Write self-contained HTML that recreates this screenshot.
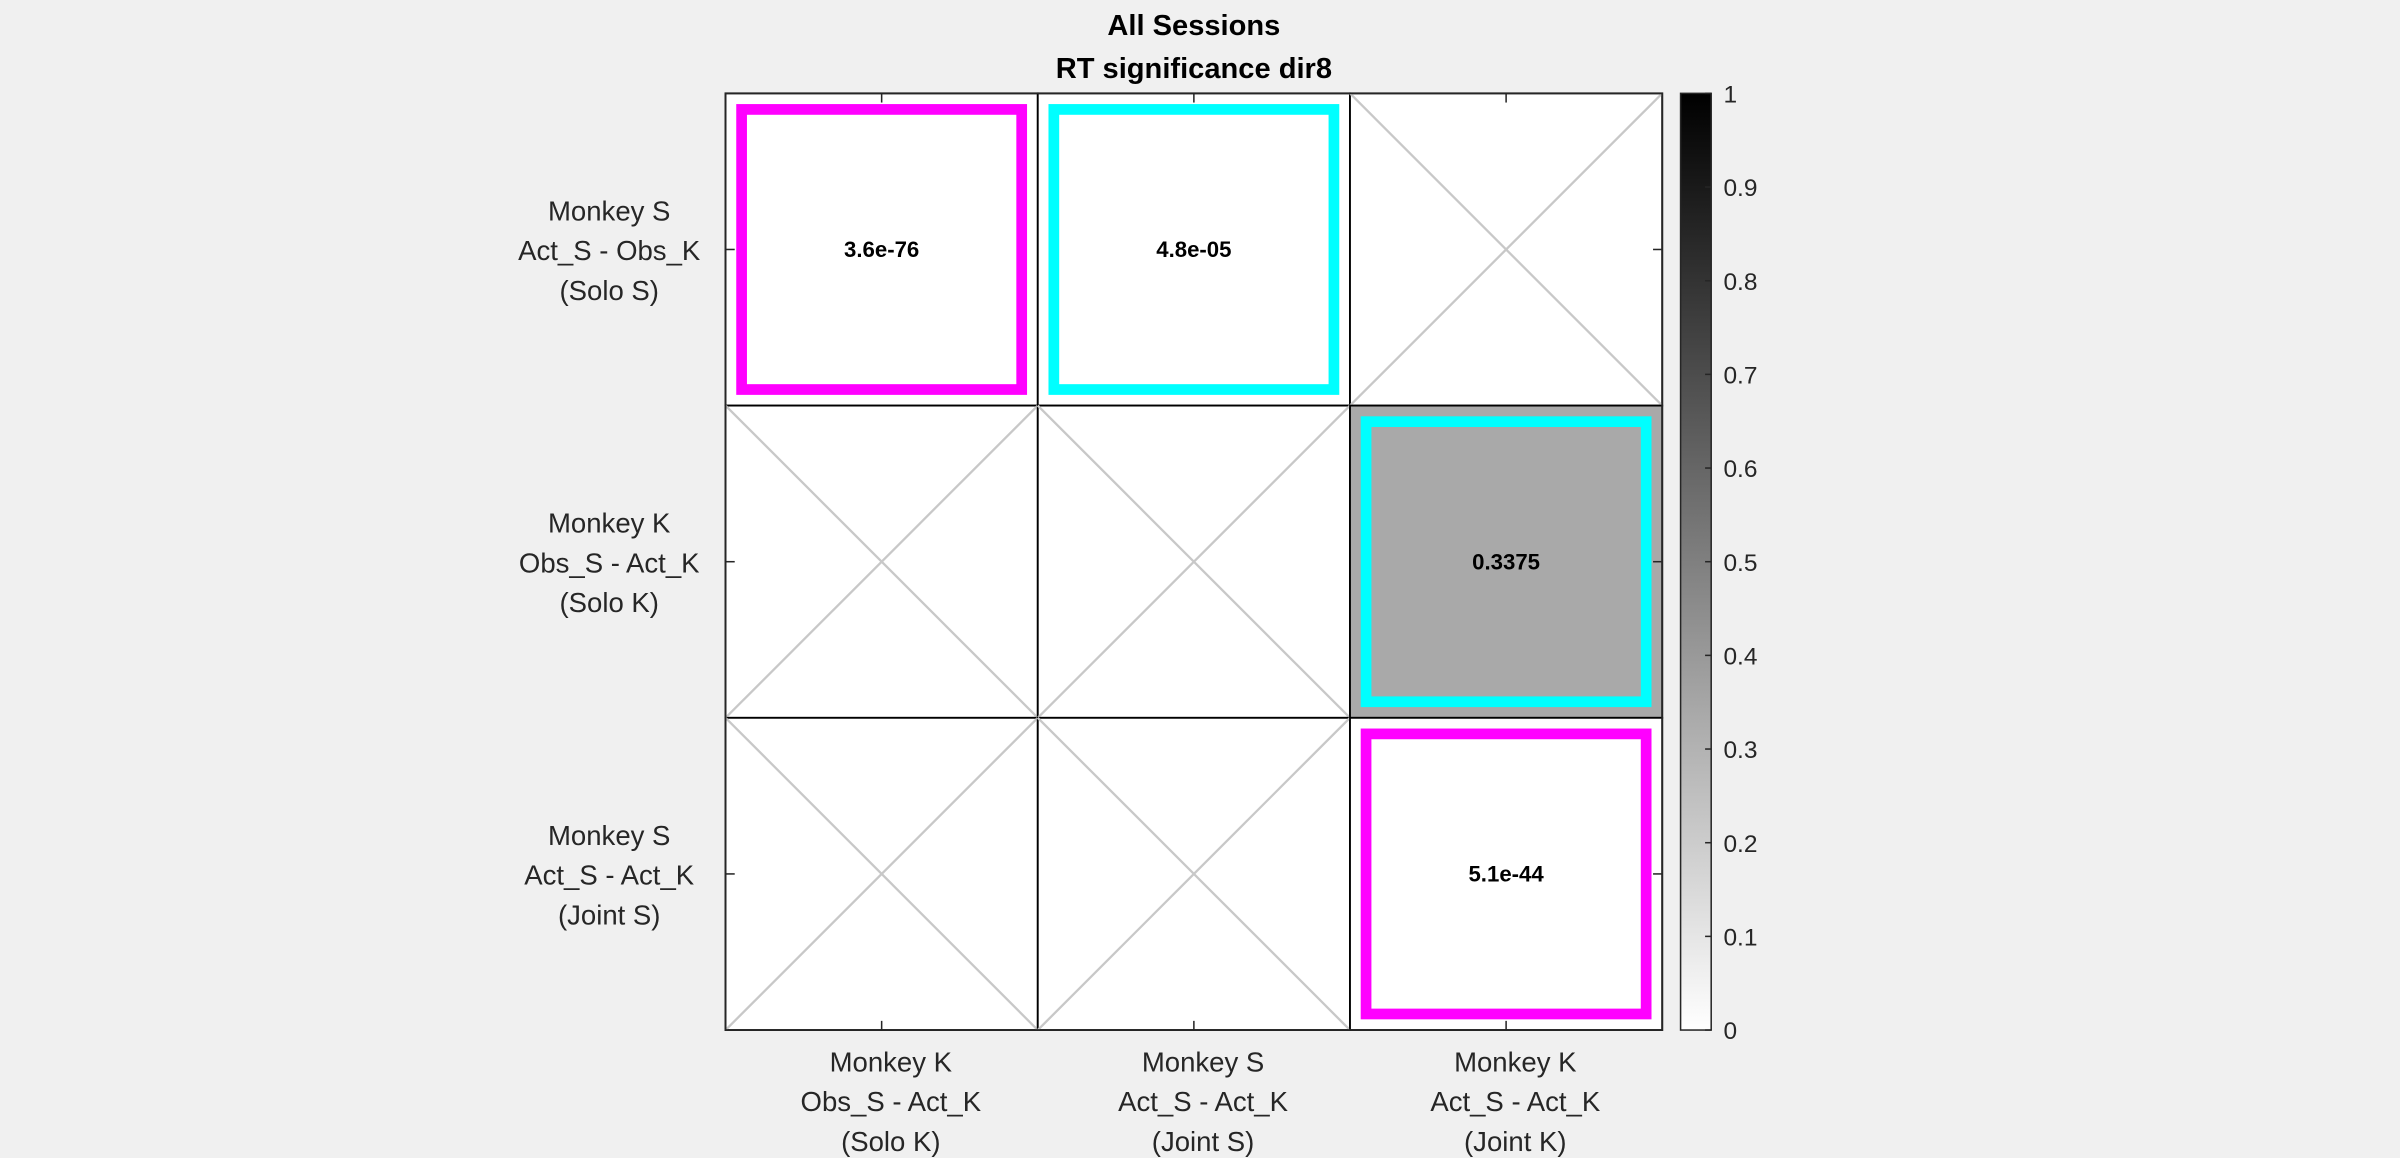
<!DOCTYPE html>
<html><head><meta charset="utf-8"><style>
html,body{margin:0;padding:0;background:#f0f0f0;}
svg{display:block;}
text{font-family:"Liberation Sans",Arial,sans-serif;}
</style></head><body>
<svg id="chart" width="2400" height="1158" viewBox="0 0 1568 756.6" xmlns="http://www.w3.org/2000/svg">
<rect x="0" y="0" width="1568" height="756.6" fill="#f0f0f0"/>
<text x="780" y="23" text-anchor="middle" font-size="19" font-weight="bold" fill="#000">All Sessions</text>
<text x="780" y="51" text-anchor="middle" font-size="19" font-weight="bold" fill="#000">RT significance dir8</text>
<g id="plot"></g>
<g id="cbar"></g>
</svg>
<script>
const rowLabels=[["Monkey S","Act_S - Obs_K","(Solo S)"],["Monkey K","Obs_S - Act_K","(Solo K)"],["Monkey S","Act_S - Act_K","(Joint S)"]];
const colLabels=[["Monkey K","Obs_S - Act_K","(Solo K)"],["Monkey S","Act_S - Act_K","(Joint S)"],["Monkey K","Act_S - Act_K","(Joint K)"]];
const pvalues=[[3.6e-76,4.8e-05,null],[null,null,0.3375],[null,null,5.1e-44]];
const pLabels=[["3.6e-76","4.8e-05",""],["","","0.3375"],["","","5.1e-44"]];
const highlight=[["#ff00ff","#00ffff",null],[null,null,"#00ffff"],[null,null,"#ff00ff"]];
const cbarTicks=[0,0.1,0.2,0.3,0.4,0.5,0.6,0.7,0.8,0.9,1];

const NS="http://www.w3.org/2000/svg";
const X0=474,X1=1086,Y0=61,Y1=673,n=3;
const cw=(X1-X0)/n,ch=(Y1-Y0)/n;
const xs=c=>X0+c*cw, ys=r=>Y0+r*ch;
function mk(tag,attrs,parent){const e=document.createElementNS(NS,tag);for(const k in attrs)e.setAttribute(k,attrs[k]);parent.appendChild(e);return e;}
const plot=document.getElementById('plot');
function gray(v){const g=Math.round(255*(1-v));return `rgb(${g},${g},${g})`;}
for(let r=0;r<n;r++)for(let c=0;c<n;c++){
  const v=pvalues[r][c],x=xs(c),y=ys(r);
  const cell=mk('rect',{x:x,y:y,width:cw,height:ch,fill:v===null?'#fff':gray(v),stroke:'#000','stroke-width':1.2},plot);
  
  
  if(v===null){
    const l1=mk('line',{x1:x,y1:y,x2:x+cw,y2:y+ch,stroke:'#c8c8c8','stroke-width':1.5},plot);
    
    
    const l2=mk('line',{x1:x+cw,y1:y,x2:x,y2:y+ch,stroke:'#c8c8c8','stroke-width':1.5},plot);
    
    
  }
}
for(let r=0;r<n;r++)for(let c=0;c<n;c++){
  const x=xs(c),y=ys(r);
  if(highlight[r][c]){
    const h=mk('rect',{x:x+10.5,y:y+10.5,width:cw-21,height:ch-21,fill:'none',stroke:highlight[r][c],'stroke-width':7},plot);
    
    
  }
  if(pLabels[r][c]){
    const t=mk('text',{x:x+cw/2,y:y+ch/2+5,'text-anchor':'middle','font-size':14.5,'font-weight':'bold',fill:'#000'},plot);
    t.textContent=pLabels[r][c];
    
    
  }
}
mk('rect',{x:X0,y:Y0,width:X1-X0,height:Y1-Y0,fill:'none',stroke:'#262626','stroke-width':1.2},plot);
for(let i=0;i<n;i++){
  const cx=xs(i)+cw/2, cy=ys(i)+ch/2;
  mk('line',{x1:cx,y1:Y1,x2:cx,y2:Y1-6,stroke:'#262626'},plot);
  mk('line',{x1:cx,y1:Y0,x2:cx,y2:Y0+6,stroke:'#262626'},plot);
  mk('line',{x1:X0,y1:cy,x2:X0+6,y2:cy,stroke:'#262626'},plot);
  mk('line',{x1:X1,y1:cy,x2:X1-6,y2:cy,stroke:'#262626'},plot);
  colLabels[i].forEach((s,k)=>{
    const t=mk('text',{x:cx+6,y:Y1+27+k*26,'text-anchor':'middle','font-size':18,fill:'#262626'},plot);
    t.textContent=s;
    
    
  });
  rowLabels[i].forEach((s,k)=>{
    const t=mk('text',{x:398,y:cy-19+k*26,'text-anchor':'middle','font-size':18,fill:'#262626'},plot);
    t.textContent=s;
    
    
  });
}
const cb=document.getElementById('cbar');
const CX=1098,CW=20;
const defs=mk('defs',{},cb);
const lg=mk('linearGradient',{id:'gr',x1:0,y1:1,x2:0,y2:0},defs);
mk('stop',{offset:0,'stop-color':'#fff'},lg);
mk('stop',{offset:1,'stop-color':'#000'},lg);
const bar=mk('rect',{x:CX,y:Y0,width:CW,height:Y1-Y0,fill:'url(#gr)',stroke:'#262626','stroke-width':1},cb);


const cy=v=>Y1-v*(Y1-Y0);
cbarTicks.forEach(v=>{
  mk('line',{x1:CX+CW,y1:cy(v),x2:CX+CW-4,y2:cy(v),stroke:'#262626'},cb);
  const t=mk('text',{x:CX+CW+8,y:cy(v)+6,'font-size':16,fill:'#262626'},cb);
  t.textContent=String(v);
  
  
});
</script>
</body></html>
